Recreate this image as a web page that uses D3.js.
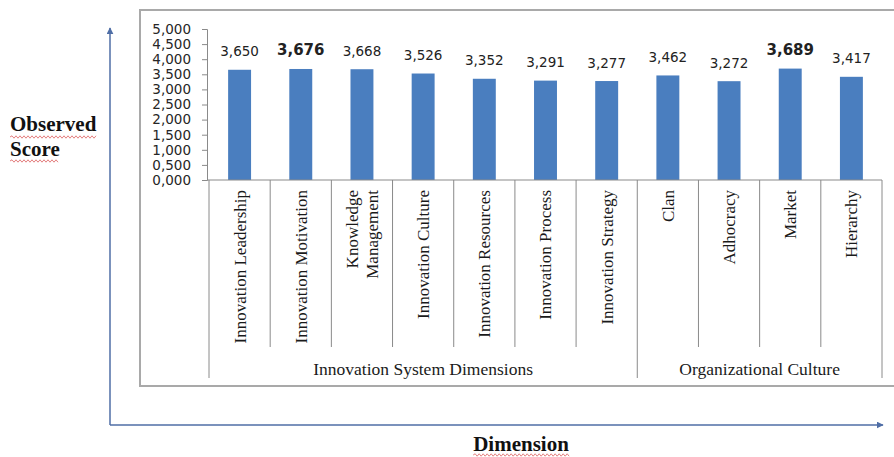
<!DOCTYPE html>
<html>
<head>
<meta charset="utf-8">
<script src="https://cdn.jsdelivr.net/npm/d3@7"></script>
<style>
  html, body { margin: 0; padding: 0; background: #ffffff; }
  svg { display: block; }
</style>
</head>
<body>
<svg id="chart" width="894" height="457"></svg>
<script>
// Mean observed scores per dimension
const categories = [
  "Innovation Leadership", "Innovation Motivation", "Knowledge Management",
  "Innovation Culture", "Innovation Resources", "Innovation Process",
  "Innovation Strategy", "Clan", "Adhocracy", "Market", "Hierarchy"
];
const scores = [3.650, 3.676, 3.668, 3.526, 3.352, 3.291, 3.277, 3.462, 3.272, 3.689, 3.417];
// Categories whose value label is set in bold
const emphasised = ["Innovation Motivation", "Market"];
// Two-line wrapping for long tick labels
const labelLines = {
  "Knowledge Management": ["Knowledge", "Management"]
};
// Grouping of categories on the second axis level
const groups = ["Innovation System Dimensions", "Organizational Culture"];
const groupStarts = [0, 7];
const groupEnds = [6, 10];
const yTicks = [0, 0.5, 1, 1.5, 2, 2.5, 3, 3.5, 4, 4.5, 5];

const svg = d3.select("#chart");
const locale = d3.formatLocale({ decimal: ",", thousands: ".", grouping: [3], currency: ["", ""] });
const fmt = locale.format(".3f");

const axisGrey = "#8a8a8a";
const arrowBlue = "#4f6ea6";
const serif = "'Liberation Serif', 'Times New Roman', serif";
const sans = "'DejaVu Sans', Verdana, sans-serif";

// Outer chart frame (continues past the right edge)
svg.append("rect")
  .attr("x", 140).attr("y", 10).attr("width", 800).attr("height", 376)
  .attr("fill", "none").attr("stroke", "#a9a9a9").attr("stroke-width", 2);

const x = d3.scaleBand()
  .domain(categories)
  .range([209, 882])
  .paddingInner(0.625)
  .paddingOuter(0.3125);

const y = d3.scaleLinear().domain([0, 5]).range([180, 29]);

// Value axis
const yAxis = svg.append("g")
  .attr("transform", "translate(207,0)")
  .call(d3.axisLeft(y).tickValues(yTicks).tickFormat(fmt).tickSize(5).tickPadding(11));
yAxis.select(".domain").attr("stroke", axisGrey);
yAxis.selectAll(".tick line").attr("stroke", axisGrey);
yAxis.selectAll(".tick text")
  .attr("fill", "#262626")
  .style("font-family", sans)
  .style("font-size", "13.5px");

// Bars
svg.append("g").selectAll("rect")
  .data(categories)
  .join("rect")
  .attr("x", d => x(d))
  .attr("width", x.bandwidth())
  .attr("y", (d, i) => y(scores[i]))
  .attr("height", (d, i) => y(0) - y(scores[i]))
  .attr("fill", "#4a7ebf");

// Value labels
svg.append("g").selectAll("text")
  .data(categories)
  .join("text")
  .attr("x", d => x(d) + x.bandwidth() / 2)
  .attr("y", (d, i) => y(scores[i]) - 13.5)
  .attr("text-anchor", "middle")
  .attr("fill", "#222")
  .style("font-family", sans)
  .style("font-size", d => emphasised.includes(d) ? "15px" : "13.5px")
  .style("font-weight", d => emphasised.includes(d) ? "bold" : "normal")
  .text((d, i) => fmt(scores[i]));

// Category axis baseline
const step = x.step();
const x0 = x.range()[0];
svg.append("line")
  .attr("x1", 207).attr("x2", x.range()[1])
  .attr("y1", y(0)).attr("y2", y(0))
  .attr("stroke", axisGrey).attr("stroke-width", 1);

// Separators between categories (longer ones bound the groups)
const boundaries = d3.range(categories.length + 1);
const groupBounds = [0, ...groupEnds.map(e => e + 1)];
svg.append("g").selectAll("line")
  .data(boundaries)
  .join("line")
  .attr("x1", k => x0 + k * step)
  .attr("x2", k => x0 + k * step)
  .attr("y1", y(0))
  .attr("y2", k => groupBounds.includes(k) ? 378 : 347)
  .attr("stroke", axisGrey).attr("stroke-width", 1);

// Rotated category labels
const catLabels = svg.append("g").selectAll("g")
  .data(categories)
  .join("g")
  .attr("transform", d => `translate(${x(d) + x.bandwidth() / 2},190) rotate(-90)`);
catLabels.each(function (d) {
  const lines = labelLines[d] || [d];
  const lh = 20;
  const t = d3.select(this).append("text")
    .attr("text-anchor", "end")
    .attr("fill", "#1a1a1a")
    .style("font-family", serif)
    .style("font-size", "17px");
  lines.forEach((ln, j) => {
    t.append("tspan")
      .attr("x", 0)
      .attr("y", (j - (lines.length - 1) / 2) * lh)
      .attr("dy", "0.35em")
      .text(ln);
  });
});

// Group labels
svg.append("g").selectAll("text")
  .data(groups)
  .join("text")
  .attr("x", (g, i) => x0 + ((groupStarts[i] + groupEnds[i] + 1) / 2) * step)
  .attr("y", 375)
  .attr("text-anchor", "middle")
  .attr("fill", "#1a1a1a")
  .style("font-family", serif)
  .style("font-size", "17.5px")
  .text(g => g);

// Outer dimension arrows
const defs = svg.append("defs");
defs.append("marker")
  .attr("id", "arrowhead")
  .attr("viewBox", "0 0 10 10")
  .attr("refX", 9).attr("refY", 5)
  .attr("markerWidth", 7).attr("markerHeight", 7)
  .attr("markerUnits", "userSpaceOnUse")
  .attr("orient", "auto")
  .append("path")
  .attr("d", "M0,0 L10,5 L0,10 Z")
  .attr("fill", arrowBlue);

svg.append("path")
  .attr("d", "M110,425 L110,28")
  .attr("fill", "none").attr("stroke", arrowBlue).attr("stroke-width", 1.5)
  .attr("marker-end", "url(#arrowhead)");
svg.append("path")
  .attr("d", "M110,425 L883,425")
  .attr("fill", "none").attr("stroke", arrowBlue).attr("stroke-width", 1.5)
  .attr("marker-end", "url(#arrowhead)");

// Axis titles with spell-check style squiggles
function squiggle(x1, x2, yy) {
  let d = `M${x1},${yy}`;
  let up = true;
  for (let px = x1 + 2; px <= x2; px += 2) {
    d += ` L${px},${yy + (up ? -1.2 : 1.2)}`;
    up = !up;
  }
  return d;
}

const titles = svg.append("g")
  .attr("fill", "#111")
  .style("font-family", serif)
  .style("font-weight", "bold")
  .style("font-size", "21px");

const obs = titles.append("text").attr("x", 10).attr("y", 131).text("Observed");
const sco = titles.append("text").attr("x", 10).attr("y", 156).text("Score");
const dim = titles.append("text").attr("x", 521).attr("y", 451).attr("text-anchor", "middle").text("Dimension");

[obs, sco, dim].forEach((t, i) => {
  const b = t.node().getBBox();
  const yy = [137, 161, 455][i];
  svg.append("path")
    .attr("d", squiggle(b.x, b.x + b.width, yy))
    .attr("fill", "none")
    .attr("stroke", "#e07070")
    .attr("stroke-width", 0.9);
});
</script>
</body>
</html>
